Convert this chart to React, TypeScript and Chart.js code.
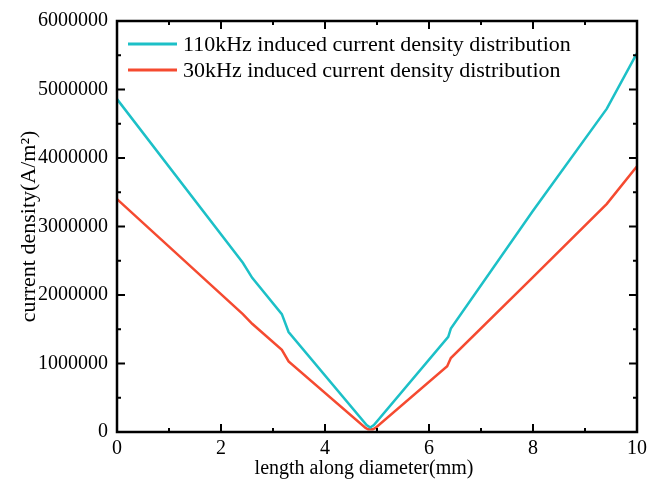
import React, { useEffect, useRef } from "react";
import { Chart, registerables } from "chart.js";

Chart.register(...registerables);

const seriesLabels = [
  "110kHz induced current density distribution",
  "30kHz induced current density distribution",
];
const seriesColors = ["#1cc0c7", "#f54a30"];

const x110 = [0, 2.42, 2.6, 3.17, 3.3, 4.8, 4.87, 4.94, 6.37, 6.42, 8.0, 9.42, 10];
const y110 = [4860000, 2470000, 2250000, 1720000, 1460000, 100000, 65000, 100000, 1390000, 1510000, 3230000, 4720000, 5530000];

const x30 = [0, 2.42, 2.6, 3.17, 3.3, 4.78, 4.83, 4.92, 4.97, 6.35, 6.42, 8.0, 9.42, 10];
const y30 = [3400000, 1720000, 1580000, 1200000, 1030000, 60000, 40000, 40000, 60000, 960000, 1080000, 2260000, 3330000, 3880000];

const xTicks = [0, 2, 4, 6, 8, 10];
const yTicks = [0, 1000000, 2000000, 3000000, 4000000, 5000000, 6000000];

const xTitle = "length along diameter(mm)";
const yTitle = "current density(A/m²)";

const FONT = "'Liberation Serif', 'Times New Roman', serif";

const toPoints = (xs: number[], ys: number[]) => xs.map((x, i) => ({ x, y: ys[i] }));

const frameTicksPlugin = {
  id: "frameTicks",
  afterDatasetsDraw(chart: any) {
    const { ctx, chartArea } = chart;
    const { left, right, top, bottom } = chartArea;
    const xs = chart.scales.x;
    const ys = chart.scales.y;
    ctx.save();
    ctx.strokeStyle = "#000";
    ctx.lineWidth = 2;
    ctx.beginPath();
    for (let i = 0; i < xTicks.length; i++) {
      const v = xTicks[i];
      const px = xs.getPixelForValue(v);
      ctx.moveTo(px, bottom); ctx.lineTo(px, bottom - 8);
      ctx.moveTo(px, top); ctx.lineTo(px, top + 8);
      if (i < xTicks.length - 1) {
        const m = xs.getPixelForValue((v + xTicks[i + 1]) / 2);
        ctx.moveTo(m, bottom); ctx.lineTo(m, bottom - 4);
        ctx.moveTo(m, top); ctx.lineTo(m, top + 4);
      }
    }
    for (let i = 0; i < yTicks.length; i++) {
      const v = yTicks[i];
      const py = ys.getPixelForValue(v);
      ctx.moveTo(left, py); ctx.lineTo(left + 8, py);
      ctx.moveTo(right, py); ctx.lineTo(right - 8, py);
      if (i < yTicks.length - 1) {
        const m = ys.getPixelForValue((v + yTicks[i + 1]) / 2);
        ctx.moveTo(left, m); ctx.lineTo(left + 4, m);
        ctx.moveTo(right, m); ctx.lineTo(right - 4, m);
      }
    }
    ctx.stroke();
    ctx.lineWidth = 2.5;
    ctx.strokeRect(left, top, right - left, bottom - top);

    // legend
    ctx.font = `22px ${FONT}`;
    ctx.textBaseline = "middle";
    ctx.textAlign = "left";
    ctx.fillStyle = "#000";
    chart.data.datasets.forEach((ds: any, i: number) => {
      const cy = top + 23 + i * 26;
      ctx.strokeStyle = ds.borderColor;
      ctx.lineWidth = 3;
      ctx.beginPath();
      ctx.moveTo(left + 11, cy);
      ctx.lineTo(left + 60, cy);
      ctx.stroke();
      ctx.fillText(ds.label, left + 66, cy + 1);
    });

    // x axis title
    ctx.font = `20px ${FONT}`;
    ctx.textAlign = "center";
    ctx.textBaseline = "middle";
    ctx.fillText(xTitle, xs.getPixelForValue(4.75), 469);
    ctx.restore();
  },
};

export default function App() {
  const ref = useRef<HTMLCanvasElement | null>(null);
  useEffect(() => {
    if (!ref.current) return;
    const chart = new Chart(ref.current, {
      type: "line",
      data: {
        datasets: [
          {
            label: seriesLabels[0],
            data: toPoints(x110, y110),
            borderColor: seriesColors[0],
            backgroundColor: seriesColors[0],
            borderWidth: 2.5,
            pointRadius: 0,
            tension: 0,
          },
          {
            label: seriesLabels[1],
            data: toPoints(x30, y30),
            borderColor: seriesColors[1],
            backgroundColor: seriesColors[1],
            borderWidth: 2.5,
            pointRadius: 0,
            tension: 0,
          },
        ],
      },
      options: {
        responsive: false,
        animation: false,
        layout: { padding: { left: 0, right: 28, top: 14, bottom: 0 } },
        plugins: { legend: { display: false }, tooltip: { enabled: false } },
        scales: {
          x: {
            type: "linear",
            min: 0,
            max: 10,
            afterBuildTicks: (s: any) => { s.ticks = xTicks.map((v) => ({ value: v })); },
            afterFit: (s: any) => { s.height = 56; },
            grid: { display: false, drawTicks: false },
            border: { display: false },
            ticks: {
              color: "#000",
              font: { family: FONT, size: 20 },
              padding: 5,
              maxRotation: 0,
              callback: (v: any) => String(v),
            },
            title: { display: false },
          },
          y: {
            type: "linear",
            min: 0,
            max: 6000000,
            afterBuildTicks: (s: any) => { s.ticks = yTicks.map((v) => ({ value: v })); },
            afterFit: (s: any) => { s.width = 117; },
            grid: { display: false, drawTicks: false },
            border: { display: false },
            ticks: {
              color: "#000",
              font: { family: FONT, size: 20 },
              padding: 9,
              callback: (v: any) => String(v),
            },
            title: {
              display: true,
              text: yTitle,
              color: "#000",
              font: { family: FONT, size: 22 },
              padding: { top: 16, bottom: 0 },
            },
          },
        },
      },
      plugins: [frameTicksPlugin],
    });
    return () => chart.destroy();
  }, []);
  return (
    <div style={{ position: "fixed", left: 0, top: 0, width: 665, height: 488, background: "#fff" }}>
      <canvas ref={ref} width={665} height={488} />
    </div>
  );
}
